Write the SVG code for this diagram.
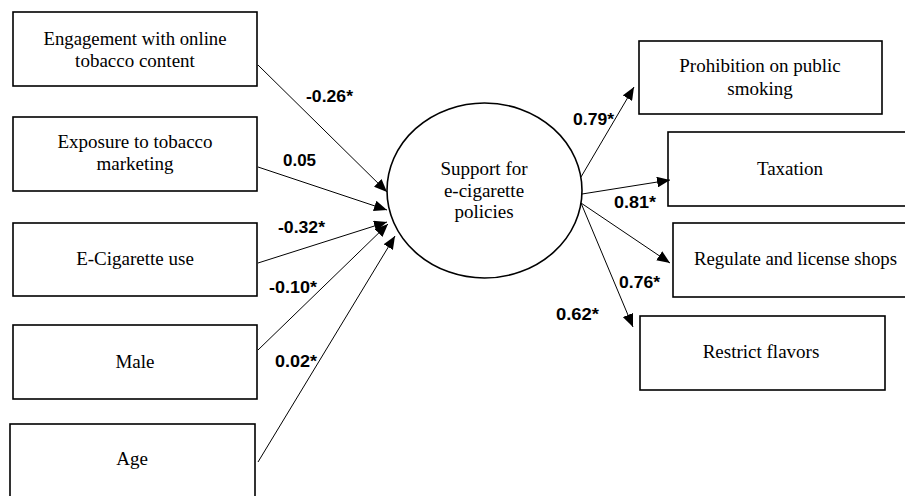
<svg xmlns="http://www.w3.org/2000/svg" width="905" height="496" viewBox="0 0 905 496">
<defs>
<style>
.box{fill:#fff;stroke:#000;stroke-width:1.6}
.t{font-family:"Liberation Serif","Times New Roman",serif;font-size:19px;fill:#000;text-anchor:middle}
.lab{font-family:"Liberation Sans",Arial,sans-serif;font-size:16.5px;font-weight:bold;fill:#000}
.edge{stroke:#000;stroke-width:1;fill:none;marker-end:url(#ah)}
</style>
<marker id="ah" viewBox="0 0 12 10" refX="12" refY="5" markerWidth="13" markerHeight="11" markerUnits="userSpaceOnUse" orient="auto">
<path d="M0,0 L12,5 L0,10 z" fill="#000"/>
</marker>
</defs>
<rect width="905" height="496" fill="#fff"/>
<g id="n_engagement"><rect class="box" x="13" y="12" width="244" height="74"/><text class="t" x="135" y="45" textLength="183" lengthAdjust="spacingAndGlyphs">Engagement with online</text><text class="t" x="135" y="67">tobacco content</text></g>
<g id="n_exposure"><rect class="box" x="13" y="117" width="244" height="74"/><text class="t" x="135" y="148">Exposure to tobacco</text><text class="t" x="135" y="170">marketing</text></g>
<g id="n_ecig"><rect class="box" x="13" y="223" width="244" height="73"/><text class="t" x="135" y="265">E-Cigarette use</text></g>
<g id="n_male"><rect class="box" x="13" y="325" width="244" height="74"/><text class="t" x="135" y="368">Male</text></g>
<g id="n_age"><rect class="box" x="10" y="424" width="245" height="80"/><text class="t" x="132" y="465">Age</text></g>
<g id="n_support"><ellipse cx="484.5" cy="190.5" rx="97.5" ry="87.5" fill="#fff" stroke="#000" stroke-width="1.6"/><text class="t" x="484" y="175">Support for</text><text class="t" x="484" y="197">e-cigarette</text><text class="t" x="484" y="218">policies</text></g>
<g id="n_prohibition"><rect class="box" x="639" y="41" width="243" height="73"/><text class="t" x="760" y="72">Prohibition on public</text><text class="t" x="760" y="95">smoking</text></g>
<g id="n_taxation"><rect class="box" x="668" y="132" width="250" height="74"/><text class="t" x="790" y="175">Taxation</text></g>
<g id="n_regulate"><rect class="box" x="673" y="223" width="245" height="74"/><text class="t" x="795.5" y="265" textLength="203" lengthAdjust="spacingAndGlyphs">Regulate and license shops</text></g>
<g id="n_restrict"><rect class="box" x="640" y="316" width="245" height="74"/><text class="t" x="761" y="358">Restrict flavors</text></g>
<g id="connectors">
<line class="edge" x1="258" y1="65" x2="387" y2="192"/>
<line class="edge" x1="258" y1="167" x2="387" y2="210"/>
<line class="edge" x1="258" y1="263" x2="387" y2="222"/>
<line class="edge" x1="258" y1="350" x2="388" y2="224"/>
<line class="edge" x1="258" y1="462" x2="395" y2="236"/>
<line class="edge" x1="581" y1="177" x2="634" y2="87"/>
<line class="edge" x1="582" y1="194" x2="670" y2="180"/>
<line class="edge" x1="581" y1="203" x2="670" y2="263"/>
<line class="edge" x1="581" y1="203" x2="633" y2="327"/>
</g>
<g id="labels">
<text class="lab" x="306" y="102" textLength="47" lengthAdjust="spacingAndGlyphs">-0.26*</text>
<text class="lab" x="283" y="166" textLength="33" lengthAdjust="spacingAndGlyphs">0.05</text>
<text class="lab" x="278" y="233" textLength="47" lengthAdjust="spacingAndGlyphs">-0.32*</text>
<text class="lab" x="269" y="293" textLength="48" lengthAdjust="spacingAndGlyphs">-0.10*</text>
<text class="lab" x="275" y="367" textLength="42" lengthAdjust="spacingAndGlyphs">0.02*</text>
<text class="lab" x="573" y="125" textLength="41" lengthAdjust="spacingAndGlyphs">0.79*</text>
<text class="lab" x="614" y="208" textLength="42" lengthAdjust="spacingAndGlyphs">0.81*</text>
<text class="lab" x="619" y="288" textLength="41" lengthAdjust="spacingAndGlyphs">0.76*</text>
<text class="lab" x="556" y="320" textLength="43" lengthAdjust="spacingAndGlyphs">0.62*</text>
</g>
</svg>
